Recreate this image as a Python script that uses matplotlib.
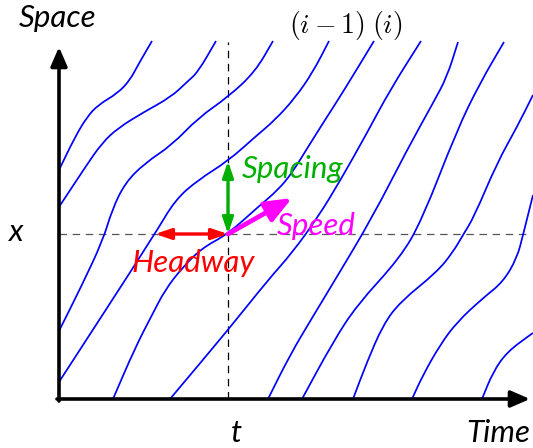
import matplotlib
matplotlib.use("Agg")
import matplotlib.pyplot as plt
from matplotlib.path import Path
from matplotlib.patches import PathPatch

plt.rcParams['font.family'] = ['Lato', 'DejaVu Sans']
plt.rcParams['mathtext.fontset'] = 'cm'

# --------- TRAJECTORIES (time, position) ---------
A_t = [0, 16, 28, 39, 59, 71, 79, 93]
A_s = [229, 262, 282, 294, 306, 319, 334, 358]
B_t = [0, 27, 43, 59, 85, 112, 128, 139, 157]
B_s = [192, 233, 256, 271, 287, 302, 317, 327, 358]
C_t = [0, 23, 44, 53, 66, 86, 113, 139, 169, 196, 214]
C_s = [68, 114, 159, 189, 216, 236, 254, 281, 302, 327, 358]
D_t = [0, 96, 116, 139, 169, 196, 216, 236, 254, 270]
D_s = [17, 165, 199, 219, 238, 262, 279, 301, 327, 358]
E_t = [54, 76, 93, 106, 123, 143, 169, 199, 219, 233, 249, 266, 284, 315]
E_s = [0, 51, 84, 109, 131, 151, 165, 192, 209, 226, 252, 279, 307, 358]
F_t = [111, 169, 209, 233, 259, 281, 308, 331, 362]
F_s = [0, 69, 119, 146, 182, 218, 266, 309, 358]
G_t = [209, 231, 253, 276, 313, 348, 374, 388, 399]
G_s = [0, 44, 81, 119, 181, 249, 296, 322, 357]
H_t = [243, 274, 298, 341, 363, 398, 421, 445]
H_s = [0, 57, 94, 141, 179, 269, 316, 357]
I_t = [294, 308, 324, 341, 378, 394, 404, 415, 438, 458, 474]
I_s = [0, 37, 74, 97, 127, 147, 164, 182, 236, 272, 304]
J_t = [353, 364, 381, 398, 424, 444, 458, 464, 469, 474]
J_s = [0, 24, 54, 77, 101, 117, 141, 164, 184, 204]
K_t = [423, 434, 448, 471, 474]
K_s = [0, 27, 47, 64, 66]

trajectories = [(A_t, A_s), (B_t, B_s), (C_t, C_s), (D_t, D_s), (E_t, E_s), (F_t, F_s),
                (G_t, G_s), (H_t, H_s), (I_t, I_s), (J_t, J_s), (K_t, K_s)]

# observation point (t, x) and the quantities measured there
t_obs = 169
x_obs = 165
headway = 73
spacing = 73
speed_end = (233, 201)

t_max = 471   # tip of the time axis
s_max = 352   # tip of the space axis


def smooth_path(ts, ss):
    # quadratic bezier through midpoints, the read points act as control points
    pts = list(zip(ts, ss))
    verts = [pts[0], ((pts[0][0] + pts[1][0]) / 2, (pts[0][1] + pts[1][1]) / 2)]
    codes = [Path.MOVETO, Path.LINETO]
    for i in range(1, len(pts) - 1):
        mid = ((pts[i][0] + pts[i + 1][0]) / 2, (pts[i][1] + pts[i + 1][1]) / 2)
        verts += [pts[i], mid]
        codes += [Path.CURVE3, Path.CURVE3]
    verts.append(pts[-1])
    codes.append(Path.LINETO)
    return Path(verts, codes)


fig = plt.figure(figsize=(5.33, 4.48), dpi=100)
ax = fig.add_axes([0, 0, 1, 1])
ax.set_xlim(-59, 474)
ax.set_ylim(-49, 399)
ax.axis('off')

# dashed guides at t and x
ax.plot([t_obs, t_obs], [0, 357], color='black', lw=0.9, dashes=(6, 4.5), zorder=1)
ax.plot([0, 470], [x_obs, x_obs], color='#555555', lw=0.9, dashes=(6, 4.5), zorder=1)

# vehicle trajectories
for ts, ss in trajectories:
    ax.add_patch(PathPatch(smooth_path(ts, ss), fill=False, edgecolor='#0000ff',
                           lw=1.25, zorder=2))

# axes arrows
axis_arrow = dict(arrowstyle='-|>,head_length=1.15,head_width=0.5', mutation_scale=10,
                  color='black', lw=2.6, shrinkA=0, shrinkB=0)
ax.annotate('', xy=(0, s_max), xytext=(0, -2), arrowprops=axis_arrow, zorder=5)
ax.annotate('', xy=(t_max, 0), xytext=(-2, 0), arrowprops=axis_arrow, zorder=5)

# headway, spacing and speed
ax.annotate('', xy=(t_obs - headway, x_obs), xytext=(t_obs, x_obs),
            arrowprops=dict(arrowstyle='<|-|>,head_length=0.95,head_width=0.32',
                            mutation_scale=10, color='#ff0000', lw=2.4,
                            shrinkA=0, shrinkB=0), zorder=4)
ax.annotate('', xy=(t_obs, x_obs + spacing), xytext=(t_obs, x_obs),
            arrowprops=dict(arrowstyle='<|-|>,head_length=0.95,head_width=0.32',
                            mutation_scale=10, color='#00b000', lw=2.4,
                            shrinkA=0, shrinkB=0), zorder=4)
ax.annotate('', xy=speed_end, xytext=(t_obs, x_obs),
            arrowprops=dict(arrowstyle='-|>,head_length=1.6,head_width=0.65',
                            mutation_scale=10, color='#ff00ff', lw=3.4,
                            shrinkA=0, shrinkB=0), zorder=4)

# labels
lab = dict(fontsize=22.5, style='italic')
ax.text(-1, 372, 'Space', ha='center', va='baseline', **lab)
ax.text(t_max, -48, 'Time', ha='right', va='bottom', **lab)
ax.text(t_obs + 8, -48, 't', ha='center', va='bottom', **lab)
ax.text(-43, x_obs - 7, 'x', ha='center', va='baseline', **lab)
ax.text(287, 366, r'$(i-1)\;(i)$', ha='center', va='baseline', fontsize=20)
ax.text(183, 221, 'Spacing', ha='left', va='baseline', color='#00b000', **lab)
ax.text(218, 164, 'Speed', ha='left', va='baseline', color='#ff00ff', **lab)
ax.text(72, 127, 'Headway', ha='left', va='baseline', color='#ff0000', **lab)

fig.savefig('out.png', dpi=100)
